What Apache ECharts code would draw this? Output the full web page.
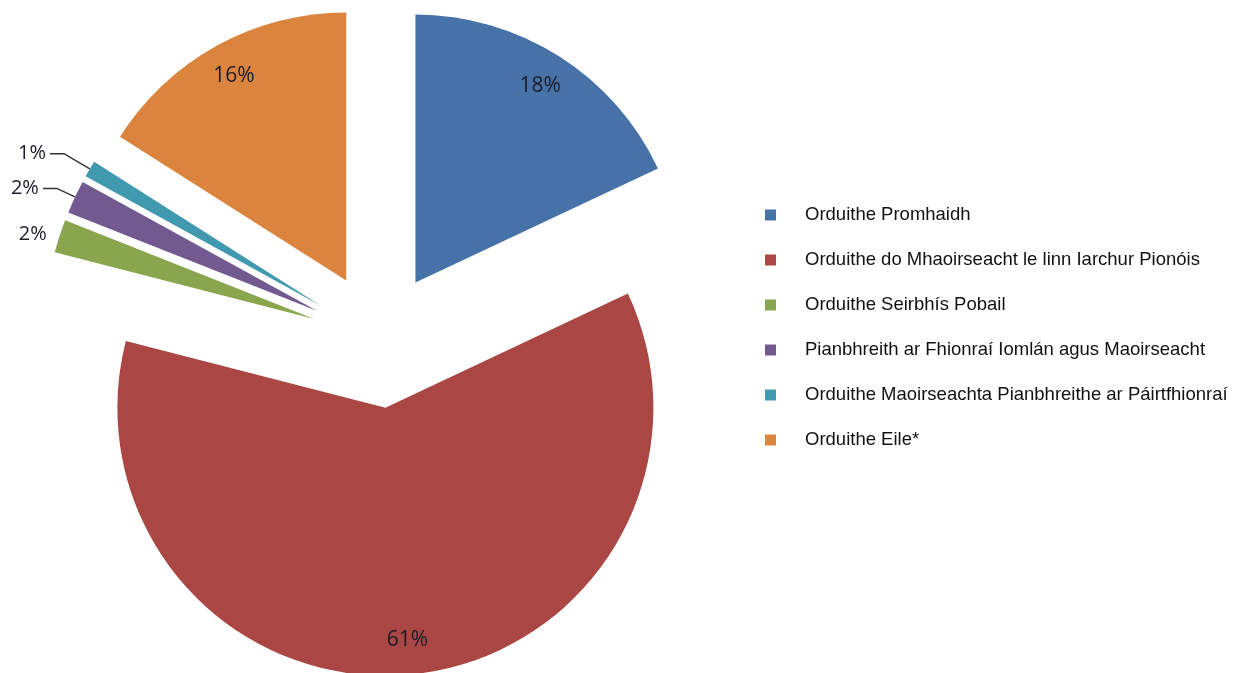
<!DOCTYPE html>
<html>
<head>
<meta charset="utf-8">
<script src="https://cdn.jsdelivr.net/npm/echarts@6/dist/echarts.min.js"></script>
<style>
  html, body { margin: 0; padding: 0; background: #fff; }
  #main { width: 1235px; height: 673px; }
</style>
</head>
<body>
<div id="main"></div>
<script>
// sonraí an phíchairt
var names = [
  'Orduithe Promhaidh',
  'Orduithe do Mhaoirseacht le linn Iarchur Pionóis',
  'Orduithe Seirbhís Pobail',
  'Pianbhreith ar Fhionraí Iomlán agus Maoirseacht',
  'Orduithe Maoirseachta Pianbhreithe ar Páirtfhionraí',
  'Orduithe Eile*'
];
var values = [18, 61, 2, 2, 1, 16];
var colors = ['#4672A8', '#AA4644', '#89A54E', '#725A90', '#4199B0', '#DB843D'];
var small = [false, false, true, true, true, false];

// fad na líne lipéid do na slisní beaga
var lineLen = [0, 0, 6, 20, 30, 0];

var chart = echarts.init(document.getElementById('main'));

var mainData = names.map(function (n, i) {
  return {
    name: n,
    value: values[i],
    selected: true,
    itemStyle: { color: colors[i] },
    label: { show: small[i] },
    labelLine: {
      show: small[i] && i !== 2,
      length: lineLen[i],
      length2: i === 2 ? 3 : 14
    }
  };
});

// sraith thrédhearcach chun lipéid a chur níos gaire don imeall
var labelData = names.map(function (n, i) {
  return {
    name: n,
    value: values[i],
    selected: true,
    itemStyle: { color: 'rgba(0,0,0,0)' },
    label: { show: !small[i] }
  };
});

var option = {
  animation: false,
  legend: {
    orient: 'vertical',
    left: 760,
    top: 200,
    data: names,
    itemWidth: 11,
    itemHeight: 11,
    itemGap: 25,
    icon: 'rect',
    selectedMode: false,
    textStyle: {
      fontFamily: 'Liberation Sans, Arial',
      fontSize: 18.5,
      lineHeight: 20,
      color: '#111',
      padding: [0, 0, 0, 24]
    }
  },
  series: [
    {
      type: 'pie',
      center: [379, 340],
      radius: [0, 268],
      startAngle: 90,
      clockwise: true,
      selectedMode: 'multiple',
      selectedOffset: 68,
      avoidLabelOverlap: false,
      emphasis: { disabled: true },
      label: {
        position: 'outside',
        formatter: '{c}%',
        fontFamily: 'Open Sans',
        fontSize: 20,
        color: '#1c1c28',
        distanceToLabelLine: 4
      },
      labelLine: {
        lineStyle: { color: '#333', width: 1.5 }
      },
      data: mainData
    },
    {
      type: 'pie',
      center: [379, 340],
      radius: [192, 268],
      startAngle: 90,
      clockwise: true,
      selectedMode: 'multiple',
      selectedOffset: 68,
      silent: true,
      emphasis: { disabled: true },
      label: {
        position: 'inside',
        formatter: '{c}%',
        fontFamily: 'Open Sans',
        fontSize: 21,
        color: '#1c1c28'
      },
      labelLine: { show: false },
      data: labelData
    }
  ]
};
chart.setOption(option);
</script>
</body>
</html>
